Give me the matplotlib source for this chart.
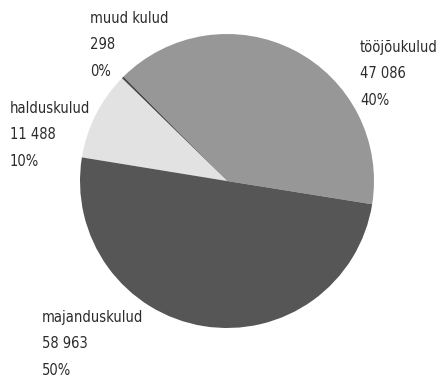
import matplotlib

matplotlib.use("Agg")
import matplotlib.pyplot as plt

# expense breakdown (thousand EUR)
labels = ["tööjõukulud", "muud kulud", "halduskulud", "majanduskulud"]
values = [47086, 298, 11488, 58963]
value_text = ["47 086", "298", "11 488", "58 963"]
colors = ["#979797", "#4a4a4a", "#e2e2e2", "#565656"]

# label anchor (left/top) in figure pixels, measured from top-left
label_pos = [(360, 40), (90, 11), (10, 101), (42, 310)]

W, H = 443, 377
plt.rcParams["font.family"] = ["DejaVu Sans"]

fig = plt.figure(figsize=(W / 100, H / 100), dpi=100)
cx, cy, r = 227, 181, 147
ax = fig.add_axes([(cx - r) / W, (H - cy - r) / H, 2 * r / W, 2 * r / H])
ax.pie(values, colors=colors, startangle=-9.1, counterclock=True, radius=1,
       wedgeprops=dict(linewidth=0))
ax.set_xlim(-1, 1)
ax.set_ylim(-1, 1)
ax.set_aspect("equal")
ax.axis("off")

total = sum(values)
for lab, vt, v, (px, py) in zip(labels, value_text, values, label_pos):
    pct = f"{round(100 * v / total)}%"
    fig.text(px / W, 1 - py / H, f"{lab}\n{vt}\n{pct}", ha="left", va="top",
             fontsize=10.5, fontstretch="condensed", color="#2b2b2b",
             linespacing=1.95)

fig.savefig("out.png", dpi=100, facecolor="white")
